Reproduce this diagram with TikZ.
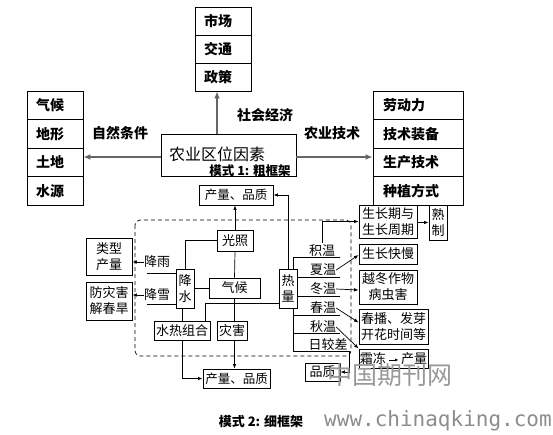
\documentclass[tikz,border=0pt]{standalone}
\usepackage{fontspec}
\newfontfamily\cjk{Noto Sans CJK SC}
\newfontfamily\monof{DejaVu Sans Mono}
\usetikzlibrary{arrows.meta,backgrounds}
\begin{document}
\begin{tikzpicture}[x=1pt,y=-1pt,
  toprow/.style={draw=black, line width=0.9pt, inner xsep=9pt, inner ysep=0pt, text width=38pt, align=left, minimum height=28pt, font=\cjk\bfseries\fontsize{14}{16}\selectfont},
  rtrow/.style={toprow, inner xsep=10pt, text width=70pt},
  tlab/.style={inner sep=0pt, font=\cjk\bfseries\fontsize{14}{16}\selectfont},
  tarr/.style={draw=black!60, line width=1.5pt, -{Latex[length=7pt,width=6pt]}},
  lbox/.style={draw=black, line width=0.9pt, inner sep=0pt, align=center, fill=white, font=\cjk\fontsize{13}{16}\selectfont},
  lab/.style={inner sep=0pt, font=\cjk\fontsize{13}{15}\selectfont},
  ln/.style={draw=black, line width=0.7pt},
  arr/.style={ln, -{Latex[length=4.5pt,width=3.5pt]}},
  capt/.style={inner sep=0pt, font=\cjk\bfseries\fontsize{12.5}{14}\selectfont}
]
\useasboundingbox (0,0) rectangle (553,434);
% ---------- model 1 ----------
\node[toprow] (ts1) at (223,21) {市场};
\node[toprow] (ts2) at (223,49) {交通};
\node[toprow] (ts3) at (223,77) {政策};
\node[toprow, minimum height=28.5pt] (lf1) at (55,105.25) {气候};
\node[toprow, minimum height=28.5pt] (lf2) at (55,133.75) {地形};
\node[toprow, minimum height=28.5pt] (lf3) at (55,162.25) {土地};
\node[toprow, minimum height=28.5pt] (lf4) at (55,190.75) {水源};
\node[rtrow, minimum height=28.5pt] (rt1) at (418,105.25) {劳动力};
\node[rtrow, minimum height=28.5pt] (rt2) at (418,133.75) {技术装备};
\node[rtrow, minimum height=28.5pt] (rt3) at (418,162.25) {生产技术};
\node[rtrow, minimum height=28.5pt] (rt4) at (418,190.75) {种植方式};
\node[draw=black, line width=0.9pt, text width=119pt, align=left, inner xsep=8pt, inner ysep=0pt, minimum height=42pt, font=\cjk\fontsize{16}{18}\selectfont] (core) at (228.5,155) {\raisebox{3pt}{农业区位因素}};
\node[capt] (cap1) at (250,171) {模式 1: 粗框架};
\draw[tarr] ([xshift=-11.5pt]core.north) -- ([xshift=-11.5pt]core.north |- ts3.south);
\draw[tarr] ([yshift=-2pt]core.west) -- ([yshift=-2pt]core.west -| lf3.east);
\draw[tarr] ([yshift=-2pt]core.east) -- ([yshift=-2pt]core.east -| rt3.west);
\node[tlab] (shehui) at (265,115) {社会经济};
\node[tlab] (ziran) at (120,133) {自然条件};
\node[tlab] (nongye) at (332,133) {农业技术};
% ---------- model 2 ----------
\node[lbox, minimum width=74pt, minimum height=20pt, font=\cjk\fontsize{12.5}{15}\selectfont] (topPQ) at (236,195) {产量、品质};
\node[lbox, minimum width=36pt, minimum height=21pt] (guang) at (235,240.5) {光照};
\node[lbox, minimum width=51pt, minimum height=20pt] (qihou) at (234.5,288) {气候};
\node[lbox, minimum width=18pt, minimum height=39pt] (jshui) at (185,288.5) {降\\水};
\node[lbox, minimum width=56pt, minimum height=19pt] (shuire) at (182,330.5) {水热组合};
\node[lbox, minimum width=30pt, minimum height=19pt] (zaihai) at (232,330.5) {灾害};
\node[lbox, minimum width=67pt, minimum height=19pt, font=\cjk\fontsize{12.5}{15}\selectfont] (botPQ) at (236.5,378.5) {产量、品质};
\node[lbox, minimum width=46pt, minimum height=37pt] (leixing) at (109,256.5) {类型\\产量};
\node[lbox, minimum width=46pt, minimum height=38pt] (fangzai) at (109,301) {防灾害\\解春旱};
\node[lbox, minimum width=18pt, minimum height=39pt] (reliang) at (288,288.5) {热\\量};
\node[lbox, minimum width=58pt, minimum height=33pt] (growth) at (388,221.5) {生长期与\\生长周期};
\node[lbox, minimum width=18pt, minimum height=35pt] (shuzhi) at (438,222.5) {熟\\制};
\node[lbox, minimum width=58pt, minimum height=20pt] (kuaiman) at (388,254) {生长快慢};
\node[lbox, minimum width=58pt, minimum height=34pt] (yuedong) at (388,287) {越冬作物\\病虫害};
\node[lbox, minimum width=69pt, minimum height=35pt] (chunbo) at (393.5,326.5) {春播、发芽\\开花时间等};
\node[lbox, minimum width=69pt, minimum height=19pt] (shuang) at (393.5,358.5) {霜冻\,\tikz[baseline={(0pt,-3.5pt)}]\draw[line width=0.7pt,-{Latex[length=3.5pt,width=3pt]}] (0pt,0pt) -- (10pt,0pt);\,产量};
\node[lbox, minimum width=35pt, minimum height=18pt] (pinzhi) at (322.5,372) {品质};
\node[lab] (jyu) at (157,262) {降雨};
\node[lab] (jxue) at (157,295) {降雪};
\node[lab] (jiwen) at (322,251) {积温};
\node[lab] (xiawen) at (323,270) {夏温};
\node[lab] (dongwen) at (323,289) {冬温};
\node[lab] (chunwen) at (323,308) {春温};
\node[lab] (qiuwen) at (323,327) {秋温};
\node[lab] (rijiao) at (328,344.5) {日较差};
\begin{scope}[on background layer]
  \draw[ln, dashed, dash pattern=on 4pt off 3pt, rounded corners=5pt] (135,220) rectangle (351,356);
  \draw[ln] (293,257) -- (293,351);
  \foreach \yy in {257,277,296,315,333} \draw[ln] (293,\yy) -- (340,\yy);
  \draw[ln] (293,351) -- (349,351);
  \draw[ln] (147,273) -- (jshui.west |- 0,273);
  \draw[ln] (147,304) -- (jshui.west |- 0,304);
\end{scope}
% connectors
\draw[arr] (guang.north) -- (topPQ.south -| guang.north);
\draw[ln] (jshui.north) |- (guang.west);
\draw[ln] (jshui.east |- qihou.west) -- (qihou.west);
\draw[ln] (guang.south) -- (qihou.north);
\draw[ln] (qihou.south) -- (qihou.south |- zaihai.north);
\draw[arr] (zaihai.south -| qihou.south) -- (botPQ.north -| qihou.south);
\draw[ln] (jshui.south -| shuire.north) -- (shuire.north);
\draw[arr] (shuire.south) |- (botPQ.west);
\draw[ln] ([xshift=-5pt]shuire.north east) |- ([yshift=-15pt]reliang.west);
\draw[arr] (reliang.north) |- (topPQ.east);
\draw[arr] (jyu.west) -- (jyu.west -| leixing.east);
\draw[arr] (jxue.west) -- (jxue.west -| fangzai.east);
\draw[arr] ([yshift=2pt]jiwen.north) |- (growth.west);
\draw[arr] (growth.east |- shuzhi.west) -- (shuzhi.west);
\draw[arr] (xiawen.east) -- ([yshift=-1pt]kuaiman.west);
\draw[arr] (dongwen.east) -- ([yshift=-3pt]yuedong.west);
\draw[arr] (chunwen.east) -- ([yshift=4pt]chunbo.west);
\draw[arr] (qiuwen.east) -- (shuang.north west);
\draw[arr] (349,351) |- (pinzhi.east);
% captions and watermark
\node[capt, font=\cjk\bfseries\fontsize{13}{15}\selectfont] (cap2) at (261,422) {模式 2: 细框架};
\node[inner sep=0pt, text=black!40, font=\cjk\fontsize{25}{28}\selectfont] (wm1) at (390,375) {中国期刊网};
\node[inner sep=0pt, text=black!45, font=\monof\fontsize{21}{23}\selectfont] (wm2) at (438,421) {www.chinaqking.com};
\end{tikzpicture}
\end{document}
